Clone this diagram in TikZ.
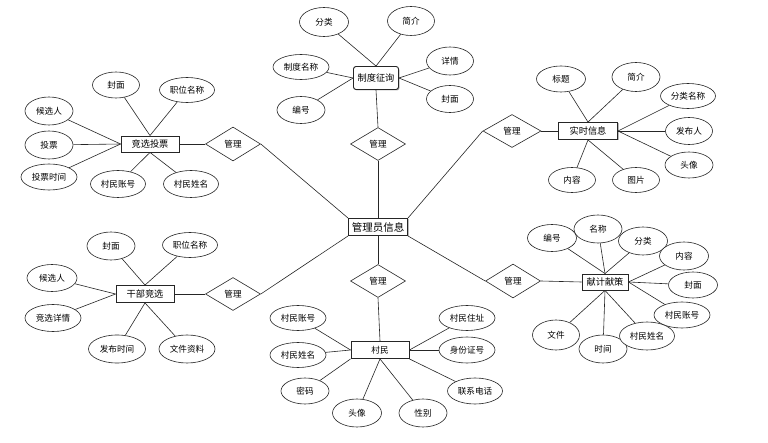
\documentclass[tikz,border=0pt]{standalone}
\usepackage{fontspec}
\newfontfamily\cjk{Noto Sans CJK SC}
\usetikzlibrary{shapes.geometric,shadows}
\tikzset{
  attr/.style={draw=black!85, ellipse, fill=white, line width=0.6pt, inner sep=0pt,
    font=\cjk\fontsize{8.6pt}{10pt}\selectfont},
  ent/.style={draw=black!85, rectangle, fill=white, line width=0.9pt, inner sep=0pt,
    drop shadow={shadow xshift=1pt, shadow yshift=-1pt, fill=black!60, opacity=0.45},
    font=\cjk\fontsize{9.2pt}{11pt}\selectfont},
  rel/.style={draw=black!85, diamond, fill=white, line width=0.6pt, inner sep=0pt, aspect=1.7,
    minimum width=55pt, minimum height=33pt, font=\cjk\fontsize{8.6pt}{10pt}\selectfont},
  conn/.style={draw=black!85, line width=0.6pt}
}
\begin{document}
\begin{tikzpicture}[x=1pt,y=-1pt]
\useasboundingbox[fill=white] (0,0) rectangle (768,443);

% central entity
\node[ent, minimum width=59pt, minimum height=17pt, font=\cjk\fontsize{10.5pt}{12pt}\selectfont] (c) at (378,227) {管理员信息};

% ---- 制度征询 ----
\node[ent, rounded corners=2.5pt, minimum width=45pt, minimum height=23pt] (zd) at (376,78) {制度征询};
\node[rel] (dz) at (378,144) {管理};
\node[attr, minimum width=49pt, minimum height=29pt] (zfl) at (324,22) {分类};
\node[attr, minimum width=47pt, minimum height=29pt] (zjj) at (411,21) {简介};
\node[attr, minimum width=56pt, minimum height=25pt] (zmc) at (301,67) {制度名称};
\node[attr, minimum width=47pt, minimum height=28pt] (zxq) at (450,61) {详情};
\node[attr, minimum width=47pt, minimum height=27pt] (zfm) at (450,99) {封面};
\node[attr, minimum width=48pt, minimum height=27pt] (zbh) at (301,110) {编号};
\foreach \a in {zfl,zjj} \draw[conn] (\a) -- (zd.north);
\foreach \a in {zmc,zbh} \draw[conn] (\a) -- (zd.west);
\foreach \a in {zxq,zfm} \draw[conn] (\a) -- (zd.east);
\draw[conn] (dz.north) -- (zd.south);
\draw[conn] (c.north) -- (dz.south);

% ---- 实时信息 ----
\node[ent, minimum width=59pt, minimum height=17pt] (sx) at (588,131) {实时信息};
\node[rel, minimum width=58pt] (ds) at (512,131) {管理};
\node[attr, minimum width=49pt, minimum height=26pt] (sbt) at (561,79) {标题};
\node[attr, minimum width=48pt, minimum height=29pt] (sjj) at (636,77) {简介};
\node[attr, minimum width=55pt, minimum height=25pt] (sfl) at (688,96) {分类名称};
\node[attr, minimum width=47pt, minimum height=27pt] (sfb) at (689,131) {发布人};
\node[attr, minimum width=48pt, minimum height=26pt] (stx) at (689,165) {头像};
\node[attr, minimum width=47pt, minimum height=25pt] (snr) at (572,180) {内容};
\node[attr, minimum width=47pt, minimum height=25pt] (stp) at (636,180) {图片};
\foreach \a in {sbt,sjj} \draw[conn] (\a) -- (sx.north);
\foreach \a in {sfl,sfb,stx} \draw[conn] (\a) -- (sx.east);
\foreach \a in {snr,stp} \draw[conn] (\a) -- (sx.south);
\draw[conn] (ds.east) -- (sx.west);
\draw[conn] (c.north east) -- (ds.west);

% ---- 竞选投票 ----
\node[ent, minimum width=58pt, minimum height=16pt] (jx) at (150,144) {竞选投票};
\node[rel, minimum height=34pt] (dj) at (233,144) {管理};
\node[attr, minimum width=47pt, minimum height=26pt] (jfm) at (116,85) {封面};
\node[attr, minimum width=55pt, minimum height=25pt] (jzw) at (187,90) {职位名称};
\node[attr, minimum width=48pt, minimum height=28pt] (jhx) at (49,111) {候选人};
\node[attr, minimum width=48pt, minimum height=28pt] (jtp) at (49,145) {投票};
\node[attr, minimum width=56pt, minimum height=26pt] (jsj) at (49,177) {投票时间};
\node[attr, minimum width=55pt, minimum height=27pt] (jzh) at (118,184) {村民账号};
\node[attr, minimum width=55pt, minimum height=27pt] (jxm) at (191,184) {村民姓名};
\foreach \a in {jfm,jzw} \draw[conn] (\a) -- (jx.north);
\foreach \a in {jhx,jtp,jsj} \draw[conn] (\a) -- (jx.west);
\foreach \a in {jzh,jxm} \draw[conn] (\a) -- (jx.south);
\draw[conn] (jx.east) -- (dj.west);
\draw[conn] (dj.east) -- (c.north west);

% ---- 干部竞选 ----
\node[ent, minimum width=58pt, minimum height=17pt] (gb) at (145,294) {干部竞选};
\node[rel] (dg) at (233,294) {管理};
\node[attr, minimum width=48pt, minimum height=28pt] (gfm) at (111,246) {封面};
\node[attr, minimum width=55pt, minimum height=25pt] (gzw) at (190,245) {职位名称};
\node[attr, minimum width=50pt, minimum height=27pt] (ghx) at (52,278) {候选人};
\node[attr, minimum width=56pt, minimum height=27pt] (gxq) at (53,318) {竞选详情};
\node[attr, minimum width=57pt, minimum height=28pt] (gsj) at (117,349) {发布时间};
\node[attr, minimum width=56pt, minimum height=28pt] (gzl) at (187,349) {文件资料};
\foreach \a in {gfm,gzw} \draw[conn] (\a) -- (gb.north);
\foreach \a in {ghx,gxq} \draw[conn] (\a) -- (gb.west);
\foreach \a in {gsj,gzl} \draw[conn] (\a) -- (gb.south);
\draw[conn] (gb.east) -- (dg.west);
\draw[conn] (dg.east) -- (c.south west);

% ---- 村民 ----
\node[ent, minimum width=58pt, minimum height=17pt, font=\cjk\fontsize{8.6pt}{10pt}\selectfont] (cm) at (380,350) {村民};
\node[rel] (dc) at (378,281) {管理};
\node[attr, minimum width=56pt, minimum height=25pt] (czh) at (298,318) {村民账号};
\node[attr, minimum width=56pt, minimum height=25pt] (cxm) at (298,355) {村民姓名};
\node[attr, minimum width=48pt, minimum height=26pt] (cmm) at (305,391) {密码};
\node[attr, minimum width=49pt, minimum height=28pt] (ctx) at (357,413) {头像};
\node[attr, minimum width=48pt, minimum height=28pt] (cxb) at (423,413) {性别};
\node[attr, minimum width=56pt, minimum height=25pt] (czz) at (467,318) {村民住址};
\node[attr, minimum width=56pt, minimum height=26pt] (csf) at (467,350) {身份证号};
\node[attr, minimum width=55pt, minimum height=26pt] (cdh) at (475,391) {联系电话};
\foreach \a in {czh,cxm} \draw[conn] (\a) -- (cm.west);
\draw[conn] (cmm) -- (cm.south west);
\foreach \a in {ctx,cxb} \draw[conn] (\a) -- (cm.south);
\foreach \a in {czz,csf} \draw[conn] (\a) -- (cm.east);
\draw[conn] (cdh) -- (cm.south east);
\draw[conn] (dc.south) -- (cm.north);
\draw[conn] (c.south) -- (dc.north);

% ---- 献计献策 ----
\node[ent, minimum width=46pt, minimum height=16pt] (xj) at (605,282) {献计献策};
\node[rel, minimum height=34pt] (dx) at (513,281) {管理};
\node[attr, minimum width=49pt, minimum height=27pt] (xbh) at (552,238) {编号};
\node[attr, minimum width=48pt, minimum height=28pt] (xmc) at (598,229) {名称};
\node[attr, minimum width=49pt, minimum height=28pt] (xfl) at (643,241) {分类};
\node[attr, minimum width=49pt, minimum height=28pt] (xnr) at (684,256) {内容};
\node[attr, minimum width=49pt, minimum height=26pt] (xfm) at (693,285) {封面};
\node[attr, minimum width=56pt, minimum height=26pt] (xzh) at (682,315) {村民账号};
\node[attr, minimum width=47pt, minimum height=30pt] (xwj) at (556,335) {文件};
\node[attr, minimum width=48pt, minimum height=28pt] (xsj) at (603,349) {时间};
\node[attr, minimum width=55pt, minimum height=28pt] (xxm) at (647,336) {村民姓名};
\foreach \a in {xbh,xmc,xfl} \draw[conn] (\a) -- (xj.north);
\foreach \a in {xnr,xfm,xzh} \draw[conn] (\a) -- (xj.east);
\foreach \a in {xwj,xsj,xxm} \draw[conn] (\a) -- (xj.south);
\draw[conn] (dx.east) -- (xj.west);
\draw[conn] (c.south east) -- (dx.west);
\end{tikzpicture}
\end{document}
